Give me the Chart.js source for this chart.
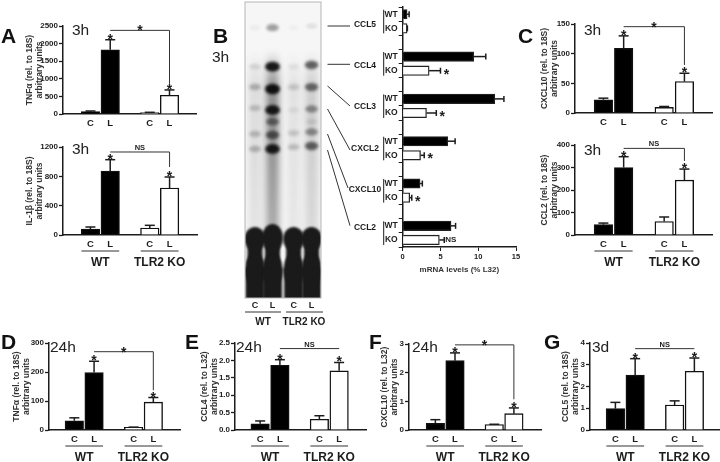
<!DOCTYPE html>
<html>
<head>
<meta charset="utf-8">
<title>Chemokine figure</title>
<script src="https://cdn.jsdelivr.net/npm/chart.js@4"></script>
<style>
  html, body { margin: 0; padding: 0; background: #fff; }
  #page { position: relative; width: 720px; height: 462px; overflow: hidden; filter: blur(0.35px); }
  canvas { position: absolute; }
  .letter { position: absolute; font: bold 21px "Liberation Sans", Arial, sans-serif; color: #111; line-height: 21px; }
  .time { position: absolute; font: 15.5px "Liberation Sans", Arial, sans-serif; color: #222; line-height: 16px; }
</style>
</head>
<body>
<div id="page"></div>
<script>
// categories shared by the bar panels
const conditions = ['C', 'L', 'C', 'L'];
const conditionSlots = [0, 1, 3, 4];
const groups = ['WT', 'TLR2 KO'];

// panel A, top
const tnf3hValues = [66, 1825, 38, 532];
const tnf3hErrors = [85, 2110, 48, 684];
const tnf3hTicks = ['0', '500', '1000', '1500', '2000', '2500'];
// panel A, bottom
const il1b3hValues = [82, 873, 95, 641];
const il1b3hErrors = [109, 1027, 132, 791];
const il1b3hTicks = ['0', '400', '800', '1200'];
// panel C, top
const cxcl103hValues = [22.4, 109, 9.5, 53];
const cxcl103hErrors = [25, 130, 11, 67];
const cxcl103hTicks = ['0', '50', '100', '150'];
// panel C, bottom
const ccl23hValues = [46, 300, 60, 244];
const ccl23hErrors = [53, 348, 80, 293];
const ccl23hTicks = ['0', '100', '200', '300', '400'];
// panel D
const tnf24hValues = [32, 198, 9, 96];
const tnf24hErrors = [42, 237, 10, 112];
const tnf24hTicks = ['0', '100', '200', '300'];
// panel E
const ccl424hValues = [0.18, 1.86, 0.31, 1.70];
const ccl424hErrors = [0.26, 2.02, 0.41, 1.94];
const ccl424hTicks = ['0.0', '0.5', '1.0', '1.5', '2.0', '2.5'];
// panel F
const cxcl1024hValues = [0.23, 2.42, 0.19, 0.57];
const cxcl1024hErrors = [0.36, 2.69, 0.20, 0.77];
const cxcl1024hTicks = ['0', '1', '2', '3'];
// panel G
const ccl53dValues = [0.98, 2.52, 1.15, 2.70];
const ccl53dErrors = [1.27, 3.28, 1.34, 3.31];
const ccl53dTicks = ['0', '1', '2', '3', '4'];

// panel B, horizontal bars
const mrnaNames = ['CCL5', 'CCL4', 'CCL3', 'CXCL2', 'CXCL10', 'CCL2'];
const mrnaWt = [0.58, 9.4, 12.2, 5.96, 2.3, 6.4];
const mrnaWtErrors = [0.85, 11.0, 13.4, 6.94, 2.6, 7.0];
const mrnaKo = [0.58, 3.5, 3.15, 2.36, 0.93, 4.85];
const mrnaKoErrors = [0.62, 5.0, 4.45, 2.85, 1.2, 5.5];
const mrnaKoMarks = ['', '*', '*', '*', '*', 'NS'];
const mrnaTicks = ['0', '5', '10', '15'];

// panel B, gel: band positions from the top of the gel and their darkness per lane
const gelLanes = [0, 0.93, 2.05, 3];
const gelLaneNames = ['C', 'L', 'C', 'L'];
const gelBandY = [
  [27.7, 66.7, 87, 108, 121.7, 134, 149],
  [27.7, 66.7, 89, 110, 121.7, 135, 149],
  [27.7, 66.7, 87, 110, 121.7, 133, 147],
  [26, 65, 87, 109, 121.7, 132, 146]
];
const gelBandDark = [
  [0.05, 0.12, 0.26, 0.2, 0, 0.22, 0.25],
  [0.38, 0.95, 1, 0.95, 0.5, 0.62, 0.95],
  [0.04, 0.07, 0.16, 0.07, 0, 0.16, 0.2],
  [0.1, 0.62, 0.58, 0.42, 0.1, 0.42, 0.62]
];
const gelSmear = [0.13, 0.5, 0.1, 0.2];

const ink = '#1c1c1c';
const sans = '"Liberation Sans", Arial, sans-serif';
const page = document.getElementById('page');

function addCanvas(left, top, width, height) {
  const c = document.createElement('canvas');
  c.width = width;
  c.height = height;
  c.style.left = left + 'px';
  c.style.top = top + 'px';
  c.style.width = width + 'px';
  c.style.height = height + 'px';
  page.appendChild(c);
  return c;
}

function addLabel(cls, text, left, top) {
  const d = document.createElement('div');
  d.className = cls;
  d.textContent = text;
  d.style.left = left + 'px';
  d.style.top = top + 'px';
  page.appendChild(d);
}

// the asterisk sits high in its em box, so shift the baseline down
function drawStar(ctx, x, y) {
  ctx.save();
  ctx.font = 'bold 14px ' + sans;
  ctx.fillStyle = ink;
  ctx.textAlign = 'center';
  ctx.textBaseline = 'alphabetic';
  ctx.fillText('*', x, y + 8);
  ctx.restore();
}

function drawLine(ctx, x1, y1, x2, y2) {
  ctx.beginPath();
  ctx.moveTo(x1, y1);
  ctx.lineTo(x2, y2);
  ctx.stroke();
}

// Vertical bar panel: error bars, significance bracket and group labels are added by a plugin
function barPanel(p) {
  const padTop = 16;
  const padRight = 4;
  const xHeight = 34;
  const width = Math.round(p.right - p.left + p.axisW + padRight);
  const height = Math.round(p.bottom - p.top + padTop + xHeight);
  const canvasLeft = p.left - p.axisW;
  const canvasTop = p.top - padTop;
  const canvas = addCanvas(canvasLeft, canvasTop, width, height);
  const slot = (p.c3 - p.c0) / 4;
  const tickValues = p.ticks.map(Number);

  const extras = {
    id: 'extras',
    afterDatasetsDraw(chart) {
      const ctx = chart.ctx;
      const x = chart.scales.x;
      const y = chart.scales.y;
      const xs = conditionSlots.map(v => x.getPixelForValue(v));
      ctx.save();
      ctx.strokeStyle = ink;
      ctx.lineWidth = 1.5;
      p.errors.forEach((e, i) => {
        const top = y.getPixelForValue(e);
        drawLine(ctx, xs[i], y.getPixelForValue(p.values[i]), xs[i], top);
        drawLine(ctx, xs[i] - 5, top, xs[i] + 5, top);
      });
      // stars over the two L bars
      drawStar(ctx, xs[1], y.getPixelForValue(p.errors[1]) - 4);
      drawStar(ctx, xs[3], y.getPixelForValue(p.errors[3]) - 4);
      // bracket between the two L bars
      const by = y.getPixelForValue(p.bracket);
      ctx.strokeStyle = '#333';
      ctx.lineWidth = 1;
      drawLine(ctx, xs[1], by, xs[3], by);
      if (p.drop !== null) drawLine(ctx, xs[3], by, xs[3], y.getPixelForValue(p.drop));
      const mid = (xs[1] + xs[3]) / 2;
      if (p.mark === '*') {
        drawStar(ctx, mid, by - 3);
      } else {
        ctx.font = 'bold 7.5px ' + sans;
        ctx.fillStyle = ink;
        ctx.textAlign = 'center';
        ctx.textBaseline = 'alphabetic';
        ctx.fillText(p.mark, mid, by - 2);
      }
      if (p.showGroups) {
        const ly = y.getPixelForValue(0);
        const half = 9;
        ctx.strokeStyle = '#333';
        drawLine(ctx, xs[0] - half, ly + 16, xs[1] + half, ly + 16);
        drawLine(ctx, xs[2] - half, ly + 16, xs[3] + half, ly + 16);
        ctx.font = 'bold 12px ' + sans;
        ctx.fillStyle = ink;
        ctx.textAlign = 'center';
        ctx.textBaseline = 'middle';
        ctx.fillText(groups[0], (xs[0] + xs[1]) / 2, ly + 27.5);
        ctx.fillText(groups[1], (xs[2] + xs[3]) / 2, ly + 27.5);
      }
      ctx.restore();
    }
  };

  new Chart(canvas, {
    type: 'bar',
    data: {
      datasets: [{
        data: p.values.map((v, i) => ({ x: conditionSlots[i], y: v })),
        backgroundColor: ['#000', '#000', '#fff', '#fff'],
        borderColor: '#111',
        borderWidth: 1.4,
        barThickness: 18.5
      }]
    },
    options: {
      responsive: false,
      animation: false,
      layout: { padding: { top: padTop, right: padRight, left: 0, bottom: 0 } },
      plugins: { legend: { display: false }, tooltip: { enabled: false } },
      scales: {
        x: {
          type: 'linear',
          min: -(p.c0 - p.left) / slot,
          max: 4 + (p.right - p.c3) / slot,
          afterFit(axis) { axis.height = xHeight; },
          afterBuildTicks(axis) { axis.ticks = conditionSlots.map(v => ({ value: v })); },
          grid: { display: false, drawTicks: false },
          border: { color: ink, width: 1.5 },
          ticks: {
            autoSkip: false,
            maxRotation: 0,
            padding: 4,
            color: ink,
            font: { family: sans, size: 9.5, weight: 'bold' },
            callback: (v, i) => conditions[i]
          }
        },
        y: {
          min: 0,
          max: tickValues[tickValues.length - 1],
          afterFit(axis) { axis.width = p.axisW; },
          afterBuildTicks(axis) { axis.ticks = tickValues.map(v => ({ value: v })); },
          grid: { drawOnChartArea: false, tickLength: 4, color: ink, tickWidth: 1.3 },
          border: { color: ink, width: 1.5 },
          title: {
            display: true,
            text: p.title,
            color: '#333',
            padding: 0,
            font: { family: sans, size: 8.5, weight: 'bold', lineHeight: 1.25 }
          },
          ticks: {
            autoSkip: false,
            padding: 1,
            color: ink,
            font: { family: sans, size: 8, weight: 'bold' },
            callback: (v, i) => p.ticks[i]
          }
        }
      }
    },
    plugins: [extras]
  });
}

barPanel({ left: 63.3, right: 196.7, top: 25.7, bottom: 113.3, c0: 77.8, c3: 183.5, axisW: 39,
  values: tnf3hValues, errors: tnf3hErrors, ticks: tnf3hTicks, title: ['TNFα (rel. to 18S)', 'arbitrary units'],
  bracket: 2376, drop: 855, mark: '*', showGroups: false });
barPanel({ left: 63.3, right: 197, top: 146.7, bottom: 234.7, c0: 77.5, c3: 182.8, axisW: 39,
  values: il1b3hValues, errors: il1b3hErrors, ticks: il1b3hTicks, title: ['IL-1β (rel. to 18S)', 'arbitrary units'],
  bracket: 1132, drop: 927, mark: 'NS', showGroups: true });
barPanel({ left: 575, right: 711.7, top: 24, bottom: 113.3, c0: 590, c3: 697.8, axisW: 36,
  values: cxcl103hValues, errors: cxcl103hErrors, ticks: cxcl103hTicks, title: ['CXCL10 (rel. to 18S)', 'arbitrary units'],
  bracket: 145.5, drop: 81, mark: '*', showGroups: false });
barPanel({ left: 575, right: 711.7, top: 145, bottom: 234.7, c0: 590, c3: 697.8, axisW: 36,
  values: ccl23hValues, errors: ccl23hErrors, ticks: ccl23hTicks, title: ['CCL2 (rel. to 18S)', 'arbitrary units'],
  bracket: 385, drop: 329, mark: 'NS', showGroups: true });
barPanel({ left: 49.3, right: 180, top: 342.7, bottom: 430, c0: 61.2, c3: 166.3, axisW: 38,
  values: tnf24hValues, errors: tnf24hErrors, ticks: tnf24hTicks, title: ['TNFα (rel. to 18S)', 'arbitrary units'],
  bracket: 270, drop: 137, mark: '*', showGroups: true });
barPanel({ left: 235, right: 366, top: 342.7, bottom: 430, c0: 246.7, c3: 352, axisW: 36,
  values: ccl424hValues, errors: ccl424hErrors, ticks: ccl424hTicks, title: ['CCL4 (rel. to L32)', 'arbitrary units'],
  bracket: 2.34, drop: null, mark: 'NS', showGroups: true });
barPanel({ left: 409.3, right: 541.7, top: 344, bottom: 430, c0: 422.5, c3: 527.5, axisW: 30,
  values: cxcl1024hValues, errors: cxcl1024hErrors, ticks: cxcl1024hTicks, title: ['CXCL10 (rel. to L32)', 'arbitrary units'],
  bracket: 2.97, drop: 1.07, mark: '*', showGroups: true });
barPanel({ left: 590, right: 720, top: 342.7, bottom: 430, c0: 602.2, c3: 707.5, axisW: 30,
  values: ccl53dValues, errors: ccl53dErrors, ticks: ccl53dTicks, title: ['CCL5 (rel. to 18S)', 'arbitrary units'],
  bracket: 3.74, drop: null, mark: 'NS', showGroups: true });

// Panel B bars: rows are WT, KO, blank for each gene
const mrnaRows = [];
const mrnaValues = [];
const mrnaRowErrors = [];
mrnaNames.forEach((name, i) => {
  mrnaRows.push('WT', 'KO');
  mrnaValues.push(mrnaWt[i], mrnaKo[i]);
  mrnaRowErrors.push(mrnaWtErrors[i], mrnaKoErrors[i]);
  if (i < mrnaNames.length - 1) {
    mrnaRows.push('');
    mrnaValues.push(null);
    mrnaRowErrors.push(null);
  }
});

// leader lines run from the gel bands to the gene names
const leaders = [
  [327.5, 26, 350, 26], [327.5, 64.3, 350, 64.3], [327.5, 86, 350, 106],
  [327.5, 109, 350, 150], [327.5, 134, 348, 188], [327.5, 150, 350, 225.7]
];
const nameRows = [25, 65.7, 107, 149, 190, 227.7];

function mrnaPanel() {
  const originX = 325;
  const canvas = addCanvas(originX, 0, 200, 275);
  const extras = {
    id: 'mrnaExtras',
    afterDatasetsDraw(chart) {
      const ctx = chart.ctx;
      const x = chart.scales.x;
      const y = chart.scales.y;
      ctx.save();
      ctx.strokeStyle = ink;
      mrnaRowErrors.forEach((e, i) => {
        if (e === null) return;
        const py = y.getPixelForValue(i);
        const px = x.getPixelForValue(e);
        ctx.lineWidth = 1.5;
        drawLine(ctx, x.getPixelForValue(mrnaValues[i]), py, px, py);
        drawLine(ctx, px, py - 3, px, py + 3);
      });
      mrnaNames.forEach((name, i) => {
        const wtRow = i * 3;
        const koRow = wtRow + 1;
        const koEnd = x.getPixelForValue(mrnaKoErrors[i]);
        const koY = y.getPixelForValue(koRow);
        if (mrnaKoMarks[i] === '*') {
          drawStar(ctx, koEnd + 6, koY);
        } else if (mrnaKoMarks[i]) {
          ctx.font = 'bold 8px ' + sans;
          ctx.fillStyle = ink;
          ctx.textAlign = 'left';
          ctx.textBaseline = 'middle';
          ctx.fillText(mrnaKoMarks[i], koEnd + 1, koY);
        }
        // small bar joining the WT and KO rows
        ctx.lineWidth = 1;
        drawLine(ctx, 383.7 - originX, y.getPixelForValue(wtRow) - 4.5, 383.7 - originX, koY + 5);
        ctx.font = 'bold 8.5px ' + sans;
        ctx.fillStyle = ink;
        ctx.textAlign = 'center';
        ctx.textBaseline = 'middle';
        ctx.fillText(name, 365 - originX, nameRows[i]);
        ctx.strokeStyle = '#333';
        const l = leaders[i];
        drawLine(ctx, l[0] - originX, l[1], l[2] - originX, l[3]);
        ctx.strokeStyle = ink;
      });
      ctx.restore();
    }
  };
  new Chart(canvas, {
    type: 'bar',
    data: {
      labels: mrnaRows,
      datasets: [{
        data: mrnaValues,
        backgroundColor: mrnaRows.map(r => r === 'WT' ? '#000' : '#fff'),
        borderColor: '#222',
        borderWidth: 1.3,
        barThickness: 9.5
      }]
    },
    options: {
      indexAxis: 'y',
      responsive: false,
      animation: false,
      layout: { padding: { top: 7.2, right: 9, left: 0, bottom: 0 } },
      plugins: { legend: { display: false }, tooltip: { enabled: false } },
      scales: {
        x: {
          min: 0,
          max: 15,
          afterFit(axis) { axis.height = 28; },
          afterBuildTicks(axis) { axis.ticks = mrnaTicks.map(v => ({ value: Number(v) })); },
          grid: { drawOnChartArea: false, tickLength: 4, color: ink },
          border: { color: ink, width: 1.5 },
          title: {
            display: true,
            text: 'mRNA levels (% L32)',
            color: '#333',
            padding: 0,
            font: { family: sans, size: 8, weight: 'bold' }
          },
          ticks: {
            padding: 1,
            autoSkip: false,
            maxRotation: 0,
            color: ink,
            font: { family: sans, size: 7.5, weight: 'bold' },
            callback: (v, i) => mrnaTicks[i]
          }
        },
        y: {
          afterFit(axis) { axis.width = 77.7; },
          grid: { drawOnChartArea: false, tickLength: 4, color: ink },
          border: { color: ink, width: 1.5 },
          ticks: {
            autoSkip: false,
            padding: 1,
            color: ink,
            font: { family: sans, size: 8.5, weight: 'bold' }
          }
        }
      }
    },
    plugins: [extras]
  });
}
mrnaPanel();

// Panel B gel: a chart without axes, the bands are placed through its scales
function gelPanel() {
  const canvas = addCanvas(240, 0, 90, 332);
  const gelTop = 2;
  const gelBottom = 298;
  const blot = {
    id: 'blot',
    beforeDatasetsDraw(chart) {
      const ctx = chart.ctx;
      const x = chart.scales.x;
      const y = chart.scales.y;
      const a = chart.chartArea;
      ctx.save();
      ctx.beginPath();
      ctx.rect(a.left, a.top, a.right - a.left, a.bottom - a.top);
      ctx.clip();

      // faint background haze over the whole gel
      ctx.fillStyle = 'rgba(0,0,0,0.035)';
      ctx.fillRect(a.left, a.top, a.right - a.left, a.bottom - a.top);

      // smear under each lane
      ctx.filter = 'blur(3.5px)';
      gelLanes.forEach((lane, i) => {
        const px = x.getPixelForValue(lane);
        const top = y.getPixelForValue(50);
        const bottom = y.getPixelForValue(235);
        const g = ctx.createLinearGradient(0, top, 0, bottom);
        g.addColorStop(0, 'rgba(30,30,30,0)');
        g.addColorStop(0.2, 'rgba(30,30,30,' + gelSmear[i] + ')');
        g.addColorStop(0.6, 'rgba(30,30,30,' + gelSmear[i] * 0.9 + ')');
        g.addColorStop(1, 'rgba(30,30,30,' + gelSmear[i] * 0.7 + ')');
        ctx.fillStyle = g;
        ctx.fillRect(px - 6.5, top, 13, bottom - top);
      });

      // bands
      ctx.filter = 'blur(1.8px)';
      gelLanes.forEach((lane, i) => {
        const px = x.getPixelForValue(lane);
        gelBandY[i].forEach((pos, j) => {
          const dark = gelBandDark[i][j];
          if (!dark) return;
          ctx.fillStyle = 'rgba(15,15,15,' + dark + ')';
          ctx.beginPath();
          ctx.ellipse(px, y.getPixelForValue(pos), 5.5 + 2 * dark, 2.6 + 2.6 * dark, 0, 0, Math.PI * 2);
          ctx.fill();
        });
      });

      // front of the gel: a head and a wide body for every lane
      ctx.filter = 'blur(1px)';
      ctx.fillStyle = '#1a1a1a';
      gelLanes.forEach((lane, i) => {
        const px = x.getPixelForValue(lane);
        ctx.beginPath();
        ctx.ellipse(px, y.getPixelForValue(i === 1 ? 238 : 239), 10.5, i === 1 ? 14 : 12, 0, 0, Math.PI * 2);
        ctx.fill();
        ctx.fillRect(px - 7.5, y.getPixelForValue(245), 15, y.getPixelForValue(265) - y.getPixelForValue(245));
        ctx.beginPath();
        ctx.ellipse(px, y.getPixelForValue(270), 10, 17, 0, 0, Math.PI * 2);
        ctx.fill();
        ctx.fillRect(px - 9.5, y.getPixelForValue(268), 19, y.getPixelForValue(300) - y.getPixelForValue(268));
      });
      ctx.restore();

      // frame and lane labels
      ctx.save();
      ctx.strokeStyle = '#b5b5b5';
      ctx.lineWidth = 1;
      ctx.strokeRect(a.left, a.top, a.right - a.left, a.bottom - a.top);
      ctx.fillStyle = ink;
      ctx.textAlign = 'center';
      ctx.textBaseline = 'middle';
      ctx.font = 'bold 9px ' + sans;
      gelLanes.forEach((lane, i) => ctx.fillText(gelLaneNames[i], x.getPixelForValue(lane), 306));
      ctx.strokeStyle = '#333';
      drawLine(ctx, 5, 312, 41, 312);
      drawLine(ctx, 46, 312, 83, 312);
      ctx.font = 'bold 10px ' + sans;
      ctx.fillText(groups[0], 23, 322);
      ctx.fillText(groups[1], 64, 322);
      ctx.restore();
    }
  };
  new Chart(canvas, {
    type: 'scatter',
    data: { datasets: [{ data: [] }] },
    options: {
      responsive: false,
      animation: false,
      layout: { padding: { left: 5, right: 9, top: gelTop, bottom: 332 - gelBottom } },
      plugins: { legend: { display: false }, tooltip: { enabled: false } },
      scales: {
        x: { display: false, min: -0.53, max: 3.5 },
        y: { display: false, reverse: true, min: gelTop, max: gelBottom }
      }
    },
    plugins: [blot]
  });
}
gelPanel();

// panel letters and time labels
[['A', 1, 25], ['B', 213, 25], ['C', 518, 25], ['D', 1, 331], ['E', 185, 331], ['F', 369, 331], ['G', 544, 331]]
  .forEach(l => addLabel('letter', l[0], l[1], l[2]));
[['3h', 72, 22], ['3h', 72, 141], ['3h', 212, 49], ['3h', 584, 22], ['3h', 584, 142],
 ['24h', 50, 339], ['24h', 236, 339], ['24h', 412, 339], ['3d', 592, 339]]
  .forEach(l => addLabel('time', l[0], l[1], l[2]));
</script>
</body>
</html>
